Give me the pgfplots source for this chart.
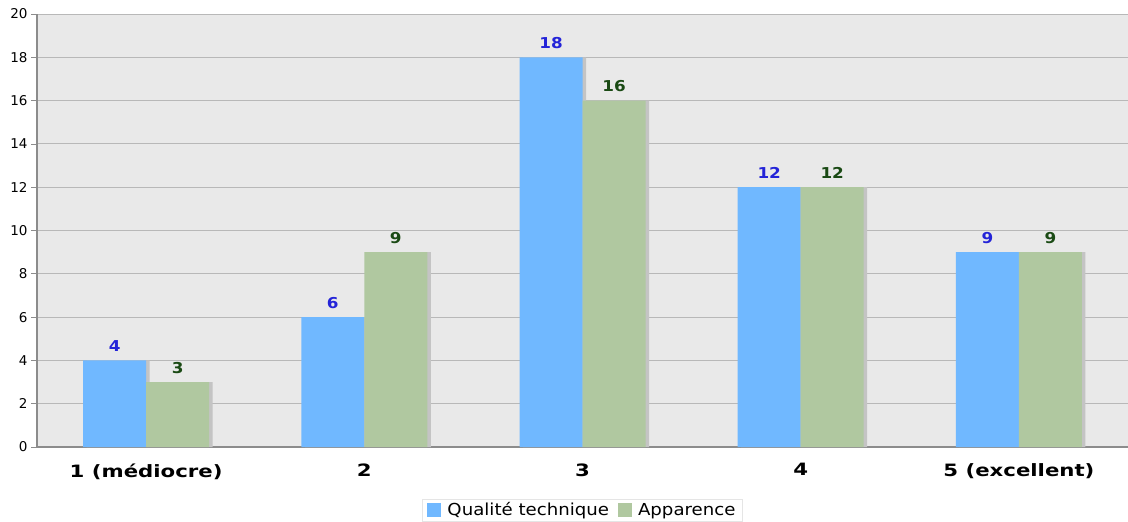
\documentclass[border=0pt]{standalone}
\usepackage{fontspec}
\setmainfont{DejaVu Sans}
\newfontfamily\xlabfont[FakeStretch=1.25]{DejaVu Sans Bold}
\newfontfamily\vallabfont[FakeStretch=1.12]{DejaVu Sans Bold}
\newfontfamily\legfont[FakeStretch=1.1]{DejaVu Sans}
\usepackage{pgfplots}
\pgfplotsset{compat=1.18}
\definecolor{bgc}{HTML}{E9E9E9}
\definecolor{gridc}{HTML}{B8B8B8}
\definecolor{axc}{HTML}{8C8C8C}
\definecolor{bluebar}{HTML}{70B8FF}
\definecolor{greenbar}{HTML}{B0C8A0}
\definecolor{bluelab}{HTML}{2424D8}
\definecolor{greenlab}{HTML}{1A4A14}
\definecolor{shadowc}{HTML}{C4C4C4}
\begin{document}
\begin{tikzpicture}
\begin{axis}[
  scale only axis,
  width=1091pt, height=433pt,
  xmin=-0.5, xmax=4.5,
  ymin=0, ymax=20,
  ytick={0,2,...,20},
  xtick={0,1,2,3,4},
  xticklabels={1 (médiocre),2,3,4,5 (excellent)},
  x tick label style={font=\fontsize{17}{17}\selectfont\xlabfont, yshift=-7pt},
  y tick label style={font=\fontsize{13.5}{13.5}\selectfont},
  /pgf/number format/assume math mode=true,
  major x tick style={draw=none},
  extra x ticks={-0.5,0.5,1.5,2.5,3.5},
  extra x tick labels={},
  extra x tick style={tick align=outside, major tick length=8pt, tick style={draw=axc, line width=0.8pt}},
  ytick style={draw=axc, line width=0.8pt},
  tick align=outside,
  major tick length=6pt,
  axis x line*=bottom,
  axis y line*=left,
  axis line style={draw=axc, line width=1.2pt, -},
  ymajorgrids,
  grid style={draw=gridc, line width=0.9pt},
  axis background/.style={fill=bgc},
  ybar,
  bar width=63pt,
  legend style={at={(0.5,-0.1455)}, anchor=center, draw=gray!20, fill=white,
    legend columns=2, font=\fontsize{16.5}{16.5}\selectfont\legfont,
    /tikz/every odd column/.append style={column sep=4pt},
    /tikz/every even column/.append style={column sep=7pt},
    inner xsep=5pt, inner ysep=1.5pt},
  legend image code/.code={\fill[#1] (0pt,-7pt) rectangle (14pt,7pt);},
  clip=false,
]
\coordinate (sw) at (rel axis cs:0,0);
\coordinate (ne) at (rel axis cs:1,1);
% shadows
\addplot[fill=shadowc, draw=none, bar shift=-28pt, forget plot] coordinates {(0,4) (1,6) (2,18) (3,12) (4,9)};
\addplot[fill=shadowc, draw=none, bar shift=35pt, forget plot] coordinates {(0,3) (1,9) (2,16) (3,12) (4,9)};
% bars
\addplot[fill=bluebar, draw=none, bar shift=-31.5pt,
  nodes near coords, every node near coord/.append style={font=\fontsize{15}{15}\selectfont\vallabfont, text=bluelab, yshift=5pt}]
  coordinates {(0,4) (1,6) (2,18) (3,12) (4,9)};
\addlegendentry{Qualité technique}
\addplot[fill=greenbar, draw=none, bar shift=31.5pt,
  nodes near coords, every node near coord/.append style={font=\fontsize{15}{15}\selectfont\vallabfont, text=greenlab, yshift=5pt}]
  coordinates {(0,3) (1,9) (2,16) (3,12) (4,9)};
\addlegendentry{Apparence}
\end{axis}
\pgfresetboundingbox
\path[use as bounding box] ([xshift=-37pt,yshift=-74pt]sw) rectangle ([yshift=14pt]ne);
\end{tikzpicture}
\end{document}
